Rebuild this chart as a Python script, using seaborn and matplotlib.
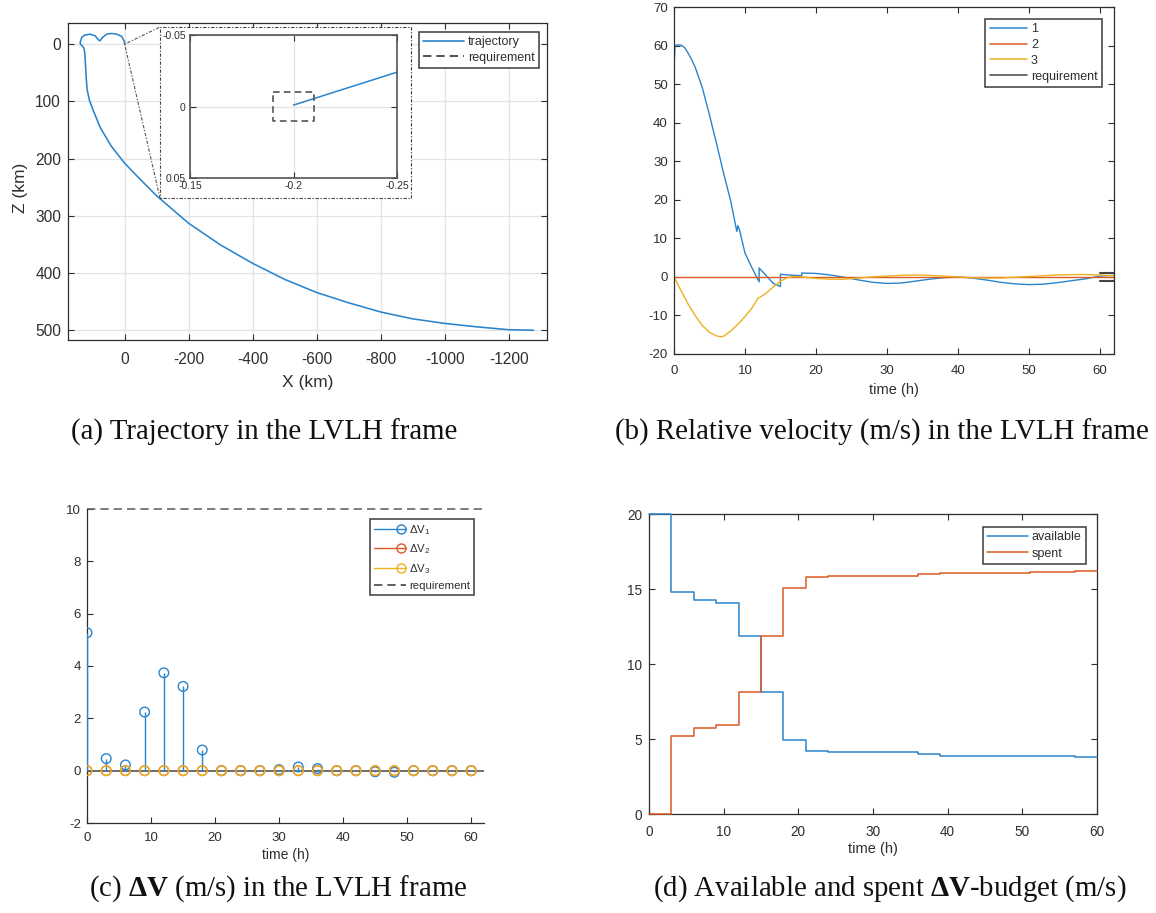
import matplotlib
matplotlib.use("Agg")
import matplotlib.pyplot as plt
import seaborn as sns
import numpy as np
import pandas as pd
from matplotlib.lines import Line2D
from matplotlib.patches import Rectangle
from matplotlib.legend_handler import HandlerBase

# ---------------- data ----------------
# (a) trajectory in LVLH frame (km)
traj_x = [-1278, -1200, -1100, -1000, -900, -800, -700, -600, -500, -400, -300, -200,
          -100, -50, 0, 42, 76, 98, 110, 117, 120, 122, 124, 126, 129, 133, 138, 139,
          134, 124, 108, 92, 82, 77, 69, 56, 41, 25, 9, 1, 0]
traj_z = [500, 499, 494, 488, 480, 468, 452, 434, 411, 383, 351, 313,
          265, 237, 208, 178, 146, 116, 98, 80, 60, 40, 20, 10, 5, 3, 0, -3,
          -12, -16, -17.5, -14.6, -7.6, -5.8, -11.7, -17.5, -18.7, -17.5, -13.5, -5, 0]
a_xticks = [0, -200, -400, -600, -800, -1000, -1200]
a_yticks = [0, 100, 200, 300, 400, 500]
# inset (zoom on final point)
inset_x = [-0.2, -0.25]
inset_z = [-0.001, -0.024]
req_box_x = [-0.19, -0.21, -0.21, -0.19, -0.19]
req_box_z = [-0.01, -0.01, 0.01, 0.01, -0.01]
inset_xticks = [-0.15, -0.2, -0.25]
inset_xlabels = ["-0.15", "-0.2", "-0.25"]
inset_yticks = [-0.05, 0, 0.05]
inset_ylabels = ["-0.05", "0", "0.05"]

# (b) relative velocity (m/s)
v1_t = [0, 0.15, 0.5, 1.0, 1.5, 2.0, 2.5, 3.0, 3.1, 4.0, 5.0, 6.0, 7.0, 8.0, 8.85, 9.0, 9.25,
        10.0, 11.0, 12.0, 12.0, 13.0, 14.0, 15.0, 15.0, 16.0, 17.0, 18.0, 18.0, 20.0, 22.0,
        24.0, 26.0, 28.0, 30.0, 32.0, 34.0, 36.0, 38.0, 40.0, 42.0, 44.0, 46.0, 48.0, 50.0,
        52.0, 54.0, 56.0, 58.0, 60.0, 62.0]
v1 = [54.7, 60.0, 60.2, 60.1, 59.5, 58.0, 56.3, 54.3, 53.8, 49.0, 42.0, 34.5, 26.8, 19.6, 11.8,
      13.3, 12.0, 6.2, 2.3, -1.3, 2.3, 0.3, -1.7, -2.5, 0.7, 0.5, 0.4, 0.3, 1.0, 0.9, 0.5,
      -0.1, -0.8, -1.4, -1.7, -1.6, -1.1, -0.6, -0.2, 0.0, -0.3, -0.8, -1.4, -1.8, -2.0,
      -1.9, -1.5, -1.0, -0.5, 0.2, 0.4]
v2_t = [0, 62]
v2 = [0, 0]
v3_t = [0, 1, 2, 3, 4, 5, 6, 6.5, 7, 8, 9, 10, 11, 11.8, 12.2, 13, 14, 15, 16, 17, 18, 20, 22,
        24, 26, 28, 30, 32, 34, 36, 38, 40, 42, 44, 46, 48, 50, 52, 54, 56, 58, 60, 62]
v3 = [0, -3.6, -7.1, -10.1, -12.6, -14.4, -15.3, -15.5, -15.4, -14.0, -12.3, -10.3, -8.0, -5.6,
      -5.2, -4.2, -2.6, -1.1, -0.2, 0.1, 0.0, -0.4, -0.6, -0.6, -0.3, 0.0, 0.2, 0.4, 0.5, 0.4,
      0.2, 0.0, -0.2, -0.3, -0.3, -0.1, 0.1, 0.3, 0.5, 0.6, 0.6, 0.5, 0.3]
vreq_t = [60, 62]
vreq_hi = [1, 1]
vreq_lo = [-1, -1]

# (c) delta-V impulses (m/s)
dv_t = [0, 3, 6, 9, 12, 15, 18, 21, 24, 27, 30, 33, 36, 39, 42, 45, 48, 51, 54, 57, 60]
dv1 = [5.27, 0.46, 0.22, 2.24, 3.74, 3.22, 0.79, 0, 0, 0, 0.04, 0.14, 0.08, 0, 0,
       -0.04, -0.06, 0, 0, 0, 0]
dv2 = [0] * 21
dv3 = [0] * 21
dv_req = 10

# (d) budget (m/s)
bud_t = [0, 3, 6, 9, 12, 15, 18, 21, 24, 27, 30, 33, 36, 39, 42, 45, 48, 51, 54, 57, 60]
available = [20, 14.78, 14.29, 14.08, 11.88, 8.12, 4.96, 4.2, 4.13, 4.13, 4.13, 4.13, 3.99,
             3.9, 3.9, 3.9, 3.9, 3.85, 3.85, 3.78, 3.78]
spent = [0, 5.22, 5.71, 5.92, 8.12, 11.88, 15.04, 15.8, 15.87, 15.87, 15.87, 15.87, 16.01,
         16.1, 16.1, 16.1, 16.1, 16.15, 16.15, 16.22, 16.22]

captions = ["(a) Trajectory in the LVLH frame",
            "(b) Relative velocity (m/s) in the LVLH frame",
            r"(c) $\mathbf{\Delta V}$ (m/s) in the LVLH frame",
            r"(d) Available and spent $\mathbf{\Delta V}$-budget (m/s)"]

# ---------------- style ----------------
sns.set_theme(style="white")
plt.rcParams["font.family"] = ["Liberation Sans", "DejaVu Sans"]
plt.rcParams["axes.unicode_minus"] = False
plt.rcParams["mathtext.fontset"] = "custom"
plt.rcParams["mathtext.rm"] = "Liberation Sans"
plt.rcParams["mathtext.it"] = "Liberation Sans:italic"
plt.rcParams["mathtext.bf"] = "Liberation Serif:bold"

BLUE, ORANGE, YELLOW = "#2a84cc", "#dc5a26", "#edb120"
AX = "#2e2e2e"
GRID = "#e3e3e3"

W, H = 1156, 913
fig = plt.figure(figsize=(W / 100, H / 100), dpi=100)
fig.patch.set_facecolor("white")


def px_axes(l, t, r, b, **kw):
    return fig.add_axes([l / W, 1 - b / H, (r - l) / W, (b - t) / H], **kw)


def style(ax, box=True, size=9.5, xpad=8, ypad=4.5):
    for s in ax.spines.values():
        s.set_color(AX)
        s.set_linewidth(0.9)
    ax.tick_params(axis="both", direction="in", length=4, width=0.8, color=AX,
                   labelcolor=AX, labelsize=size, top=box, right=box, bottom=True, left=True)
    ax.tick_params(axis="x", pad=xpad)
    ax.tick_params(axis="y", pad=ypad)
    if not box:
        ax.spines["top"].set_visible(False)
        ax.spines["right"].set_visible(False)


def place_xlabel(ax, txt, yfrac, size=10):
    ax.set_xlabel(txt, fontsize=size, color=AX)
    ax.xaxis.label.set_va("center")
    ax.xaxis.set_label_coords(0.5, yfrac)


def legend(ax, handles, labels, right, top, size=9, hl=3.0, ls=0.3, **kw):
    leg = ax.legend(handles, labels, loc="upper right",
                    bbox_to_anchor=(right / W, 1 - top / H), bbox_transform=fig.transFigure,
                    borderaxespad=0, fancybox=False, framealpha=1, edgecolor="#3a3a3a",
                    fontsize=size, handlelength=hl, labelspacing=ls, borderpad=0.35,
                    handletextpad=0.3, **kw)
    leg.get_frame().set_linewidth(1.1)
    for t in leg.get_texts():
        t.set_color(AX)
    return leg


# ---------------- (a) trajectory ----------------
axa = px_axes(68, 23, 547, 340)
style(axa, box=True, size=11.2, xpad=8.5, ypad=5)
axa.set_axisbelow(True)
axa.grid(True, color=GRID, lw=0.9)
sns.lineplot(x=traj_x, y=traj_z, ax=axa, sort=False, estimator=None, color=BLUE, lw=1.15)
axa.set_xlim(177, -1320)
axa.set_ylim(517, -37)
axa.set_xticks(a_xticks)
axa.set_yticks(a_yticks)
place_xlabel(axa, "X (km)", -0.1325, size=12.5)
axa.set_ylabel("Z (km)", fontsize=12.5, color=AX)
axa.yaxis.label.set_va("center")
axa.yaxis.set_label_coords(-0.1, 0.48)
legend(axa, [Line2D([], [], color=BLUE, lw=1.2), Line2D([], [], color="#333333", lw=1.2, ls=(0, (5, 3)))],
       ["trajectory", "requirement"], 539, 32, size=9, hl=3.3, ls=0.25)

# dotted inset frame (white) + connectors
bx0, by0, bx1, by1 = 160, 27, 411, 198
fig.add_artist(Rectangle((bx0 / W, 1 - by1 / H), (bx1 - bx0) / W, (by1 - by0) / H,
                         transform=fig.transFigure, facecolor="white", edgecolor="#444444",
                         lw=0.8, ls=(0, (1.2, 1.5, 3, 1.5)), zorder=2))
end_disp = axa.transData.transform((traj_x[-1], traj_z[-1]))
end_fig = fig.transFigure.inverted().transform(end_disp)
for cy in (by0, by1):
    fig.add_artist(Line2D([end_fig[0], bx0 / W], [end_fig[1], 1 - cy / H],
                          transform=fig.transFigure, color="#555555", lw=0.8,
                          ls=(0, (1.2, 1.5, 3, 1.5)), zorder=1.5))

axi = px_axes(190, 35, 397, 178, zorder=3)
style(axi, box=True, size=7.5, xpad=2.5, ypad=3)
for s in axi.spines.values():
    s.set_linewidth(1.2)
    s.set_color("#555555")
axi.set_axisbelow(True)
axi.grid(True, color=GRID, lw=0.9)
sns.lineplot(x=inset_x, y=inset_z, ax=axi, sort=False, estimator=None, color=BLUE, lw=1.1)
axi.plot(req_box_x, req_box_z, color="#555555", lw=1.2, ls=(0, (4, 2.5)))
axi.set_xlim(-0.15, -0.25)
axi.set_ylim(0.05, -0.05)
axi.set_xticks(inset_xticks)
axi.set_xticklabels(inset_xlabels)
axi.set_yticks(inset_yticks)
axi.set_yticklabels(inset_ylabels)

# ---------------- (b) relative velocity ----------------
axb = px_axes(674, 7, 1114, 354)
style(axb, box=True, size=9.5, xpad=8, ypad=4.5)
sns.lineplot(x=v1_t, y=v1, ax=axb, sort=False, estimator=None, color=BLUE, lw=1.0)
sns.lineplot(x=v2_t, y=v2, ax=axb, sort=False, estimator=None, color=ORANGE, lw=1.0)
sns.lineplot(x=v3_t, y=v3, ax=axb, sort=False, estimator=None, color=YELLOW, lw=1.0)
sns.lineplot(x=vreq_t, y=vreq_hi, ax=axb, sort=False, estimator=None, color="#444444", lw=1.5)
sns.lineplot(x=vreq_t, y=vreq_lo, ax=axb, sort=False, estimator=None, color="#444444", lw=1.5)
axb.set_xlim(0, 62)
axb.set_ylim(-20, 70)
axb.set_xticks(range(0, 61, 10))
axb.set_yticks(range(-20, 71, 10))
place_xlabel(axb, "time (h)", -0.1037, size=10.5)
legend(axb, [Line2D([], [], color=c, lw=1.1) for c in (BLUE, ORANGE, YELLOW, "#444444")],
       ["1", "2", "3", "requirement"], 1102, 19, size=9, hl=3.0, ls=0.3)

# ---------------- (c) delta-V ----------------
axc = px_axes(87, 509, 484, 823)
style(axc, box=False, size=9.5, xpad=6.5, ypad=4.5)
axc.axhline(dv_req, color="#666666", lw=1.2, ls=(0, (5, 3)), clip_on=False, zorder=1)
axc.axhline(0, color="#555555", lw=1.2, zorder=2)
for vals, col, z in ((dv1, BLUE, 3), (dv2, ORANGE, 4), (dv3, YELLOW, 5)):
    axc.vlines(dv_t, 0, vals, color=col, lw=1.0, zorder=z)
    sns.scatterplot(x=dv_t, y=vals, ax=axc, marker="o", s=48, facecolors="none",
                    edgecolor=col, linewidth=1.0, zorder=z, legend=False)
axc.set_xlim(0, 62)
axc.set_ylim(-2, 10)
axc.set_xticks(range(0, 61, 10))
axc.set_yticks(range(-2, 11, 2))
place_xlabel(axc, "time (h)", -0.102, size=10)


class StemHandler(HandlerBase):
    def __init__(self, color):
        super().__init__()
        self.color = color

    def create_artists(self, legend, orig_handle, xdescent, ydescent, width, height,
                       fontsize, trans):
        y = height / 2 - ydescent
        x0, x1 = -xdescent, width - xdescent
        ln = Line2D([x0, x1], [y, y], color=self.color, lw=1.0, transform=trans)
        mk = Line2D([x1 - 3], [y], marker="o", ms=6.5, mfc="none", mec=self.color,
                    mew=1.0, ls="none", transform=trans)
        return [ln, mk]


hc = [Line2D([], [], color=c) for c in (BLUE, ORANGE, YELLOW)]
hreq = Line2D([], [], color="#444444", lw=1.2, ls=(0, (5, 3)))
legend(axc, hc + [hreq], ["ΔV$_1$", "ΔV$_2$", "ΔV$_3$", "requirement"], 474, 519,
       size=8.2, hl=2.8, ls=0.5,
       handler_map={hc[0]: StemHandler(BLUE), hc[1]: StemHandler(ORANGE), hc[2]: StemHandler(YELLOW)})

# ---------------- (d) budget ----------------
axd = px_axes(649, 514, 1097, 814)
style(axd, box=True, size=9.8, xpad=8, ypad=5)
sns.lineplot(x=bud_t, y=available, ax=axd, sort=False, estimator=None, color=BLUE, lw=1.1,
             drawstyle="steps-post", clip_on=False, zorder=5)
sns.lineplot(x=bud_t, y=spent, ax=axd, sort=False, estimator=None, color=ORANGE, lw=1.1,
             drawstyle="steps-post", clip_on=False, zorder=5)
axd.set_xlim(0, 60)
axd.set_ylim(0, 20)
axd.set_xticks(range(0, 61, 10))
axd.set_yticks(range(0, 21, 5))
place_xlabel(axd, "time (h)", -0.117, size=10.5)
legend(axd, [Line2D([], [], color=BLUE, lw=1.1), Line2D([], [], color=ORANGE, lw=1.1)],
       ["available", "spent"], 1086, 527, size=9, hl=3.3, ls=0.33)

# ---------------- captions ----------------
cap_pos = [(264, 432), (882, 432), (278, 889), (890, 889)]
for txt, (cx, cy) in zip(captions, cap_pos):
    fig.text(cx / W, 1 - cy / H, txt, ha="center", va="center", fontsize=20.8,
             family=["Liberation Serif", "DejaVu Serif"], color="#111111")

fig.savefig("out.png", dpi=100, facecolor="white")
